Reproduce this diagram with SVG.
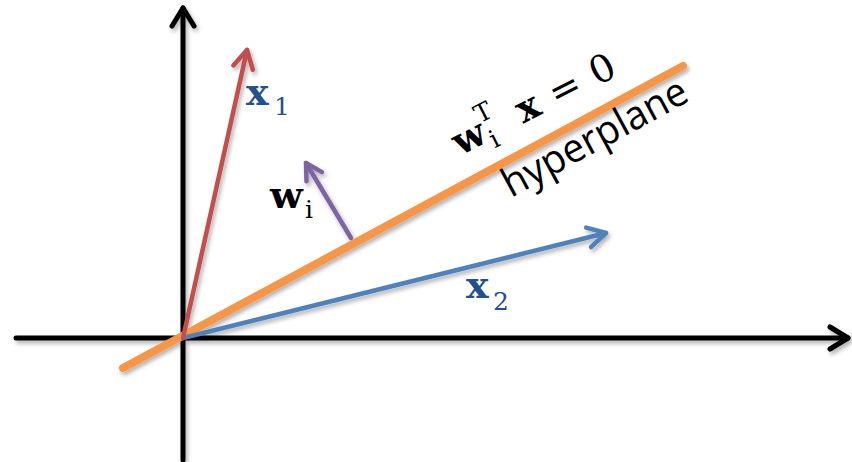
<svg xmlns="http://www.w3.org/2000/svg" width="852" height="462" viewBox="0 0 852 462">
  <style>
    .ln { fill: none; stroke-linecap: round; stroke-linejoin: round; }
    .axis { stroke: #000; stroke-width: 5; }
    .serif { font-family: "DejaVu Serif", "Liberation Serif", serif; }
    .bold { font-weight: bold; }
    .lbl { fill: #24508f; }
    .sans { font-family: "Open Sans", "Liberation Sans", sans-serif; }
  </style>
  <defs>
    <filter id="sh" x="-10%" y="-10%" width="130%" height="130%">
      <feDropShadow dx="2" dy="3" stdDeviation="2" flood-color="#000" flood-opacity="0.3"/>
    </filter>
    <marker id="ahK" markerUnits="userSpaceOnUse" viewBox="-24 -14 28 28" markerWidth="28" markerHeight="28" refX="0" refY="0" orient="auto">
      <path d="M -18 -11 L 0 0 L -18 11" fill="none" stroke="#000" stroke-width="5" stroke-linecap="round" stroke-linejoin="round"/>
    </marker>
    <marker id="ahR" markerUnits="userSpaceOnUse" viewBox="-24 -14 28 28" markerWidth="28" markerHeight="28" refX="0" refY="0" orient="auto">
      <path d="M -18 -10 L 0 0 L -18 10" fill="none" stroke="#c0504d" stroke-width="4.5" stroke-linecap="round" stroke-linejoin="round"/>
    </marker>
    <marker id="ahB" markerUnits="userSpaceOnUse" viewBox="-24 -14 28 28" markerWidth="28" markerHeight="28" refX="0" refY="0" orient="auto">
      <path d="M -18 -10 L 0 0 L -18 10" fill="none" stroke="#4f81bd" stroke-width="4.5" stroke-linecap="round" stroke-linejoin="round"/>
    </marker>
    <marker id="ahP" markerUnits="userSpaceOnUse" viewBox="-24 -14 28 28" markerWidth="28" markerHeight="28" refX="0" refY="0" orient="auto">
      <path d="M -16 -9 L 0 0 L -16 9" fill="none" stroke="#8064a2" stroke-width="4.5" stroke-linecap="round" stroke-linejoin="round"/>
    </marker>
  </defs>

  <g id="connectors" filter="url(#sh)">
    <line id="y-axis" class="ln axis" x1="183" y1="460" x2="183" y2="8" marker-end="url(#ahK)"/>
    <line id="x-axis" class="ln axis" x1="16" y1="338" x2="848" y2="338" marker-end="url(#ahK)"/>
    <line id="hyperplane-line" class="ln" x1="123" y1="368" x2="683" y2="66" stroke="#f79646" stroke-width="8"/>
    <line id="x2-vec" class="ln" x1="183" y1="338" x2="606" y2="233" stroke="#4f81bd" stroke-width="4.5" marker-end="url(#ahB)"/>
    <line id="x1-vec" class="ln" x1="183" y1="338" x2="247" y2="50" stroke="#c0504d" stroke-width="4.5" marker-end="url(#ahR)"/>
    <line id="wi-vec" class="ln" x1="351" y1="238" x2="306" y2="163" stroke="#8064a2" stroke-width="4.5" marker-end="url(#ahP)"/>
  </g>

  <g id="label-x1" class="serif lbl">
    <text x="246" y="105" font-size="38" class="bold">x</text>
    <text x="274" y="115" font-size="25">1</text>
  </g>

  <g id="label-x2" class="serif lbl">
    <text x="466" y="298" font-size="38" class="bold">x</text>
    <text x="493" y="310" font-size="25">2</text>
  </g>

  <g id="label-wi" class="serif" fill="#000">
    <text x="270" y="208" font-size="38" class="bold">w</text>
    <text x="305" y="218" font-size="25">i</text>
  </g>

  <g id="label-equation" class="serif" fill="#000" transform="translate(460,156) rotate(-27)">
    <text x="0" y="0" font-size="38" class="bold">w</text>
    <text x="34" y="9" font-size="25">i</text>
    <text x="32" y="-20" font-size="25">T</text>
    <text x="71" y="0" font-size="38" class="bold">x</text>
    <text x="108" y="0" font-size="38">=</text>
    <text x="154" y="0" font-size="38">0</text>
  </g>

  <g id="label-hyperplane" fill="#000">
    <text class="sans" x="0" y="0" font-size="40" transform="translate(511,198) rotate(-28.5)" textLength="205" lengthAdjust="spacingAndGlyphs">hyperplane</text>
  </g>
</svg>
